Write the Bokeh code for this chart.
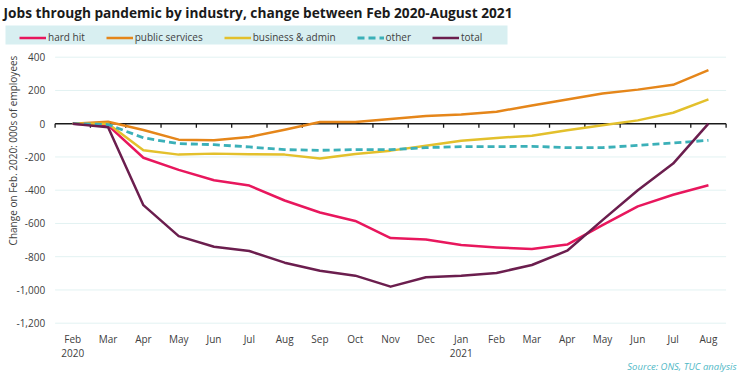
import math
from bokeh.plotting import figure
from bokeh.models import Range1d, Legend, LegendItem, Label, BoxAnnotation
from bokeh.core.properties import value
from bokeh.embed import file_html
from bokeh.resources import INLINE

# ---- data (000s of employees, change on Feb 2020) ----
months = ["Feb\n2020", "Mar", "Apr", "May", "Jun", "Jul", "Aug", "Sep", "Oct", "Nov",
          "Dec", "Jan\n2021", "Feb", "Mar", "Apr", "May", "Jun", "Jul", "Aug"]
hard_hit = [0, -10, -205, -278, -340, -372, -462, -534, -585, -688, -697, -730, -744,
            -754, -727, -610, -497, -427, -370]
public_services = [0, 12, -38, -96, -100, -80, -36, 10, 10, 28, 46, 56, 72, 110, 145,
                   182, 205, 234, 322]
business_admin = [0, 0, -160, -186, -180, -184, -186, -210, -182, -162, -132, -102, -86,
                  -72, -40, -10, 20, 66, 146]
other = [0, -5, -85, -120, -126, -140, -156, -160, -156, -156, -144, -138, -138, -136,
         -144, -144, -130, -116, -100]
total = [0, -22, -490, -676, -740, -766, -836, -884, -914, -980, -924, -914, -898, -850,
         -764, -580, -400, -240, 0]
y_ticks = [-1200, -1000, -800, -600, -400, -200, 0, 200, 400]

series = [
    ("hard hit", hard_hit, "#e8175d", "solid"),
    ("public services", public_services, "#e5861a", "solid"),
    ("business & admin", business_admin, "#e3c02c", "solid"),
    ("other", other, "#3bb0b8", "7 4"),
    ("total", total, "#6b1e4e", "solid"),
]

FONT = "Open Sans"
TXT = "#404040"

# ---- layout (pixels on the canvas) ----
W, H = 750, 376
PX_L, PX_R, PX_T, PX_B = 54.6, 725.6, 56.7, 322.7

n = len(months)
xs = list(range(n))
ymin, ymax = min(y_ticks), max(y_ticks)
ux = (PX_R - PX_L) / n                 # px per category
uy = (PX_B - PX_T) / (ymax - ymin)     # px per unit
x_start = -0.5 - PX_L / ux
x_end = n - 0.5 + (W - PX_R) / ux
y_end = ymax + PX_T / uy
y_start = ymin - (H - PX_B) / uy

p = figure(width=W, height=H, output_backend="svg", toolbar_location=None, title=None,
           x_range=Range1d(x_start, x_end), y_range=Range1d(y_start, y_end),
           min_border=0, x_axis_type=None, y_axis_type=None)
p.outline_line_color = None
p.background_fill_color = "white"
p.border_fill_color = "white"

# gridlines
grid_vals = [t for t in y_ticks if t != 0]
p.segment(x0=[-0.5] * len(grid_vals), x1=[n - 0.5] * len(grid_vals),
          y0=grid_vals, y1=grid_vals, line_color="#e2f2f2", line_width=1)

# zero line with ticks at category boundaries
p.segment(x0=[-0.5], x1=[n - 0.5], y0=[0], y1=[0], line_color="#1a1a1a", line_width=1.5)
bounds = [i - 0.5 for i in range(n + 1)]
tick_len = 4 / uy
p.segment(x0=bounds, x1=bounds, y0=[0] * len(bounds), y1=[-tick_len] * len(bounds),
          line_color="#1a1a1a", line_width=1.3)

# series
renderers = []
for name, vals, col, dash in series:
    r = p.line(xs, vals, line_color=col, line_width=2.5 if dash == "solid" else 2.8,
               line_dash=dash, line_join="round")
    renderers.append((name, r))

# y tick labels
p.text(x=[-0.5] * len(y_ticks), y=y_ticks, text=[f"{t:,}" for t in y_ticks],
       x_offset=-10, text_align="right", text_baseline="middle",
       text_font=value(FONT), text_font_size=value("10px"), text_color=TXT)

# x tick labels
p.text(x=xs, y=[ymin] * n, text=months, y_offset=9, text_align="center",
       text_baseline="top", text_line_height=0.96,
       text_font=value(FONT), text_font_size=value("10px"), text_color=TXT)

# legend background + legend
p.add_layout(BoxAnnotation(left=5, right=507, top=H - 25, bottom=H - 44,
                           left_units="screen", right_units="screen",
                           top_units="screen", bottom_units="screen",
                           fill_color="#d8eff1", fill_alpha=1, line_color=None,
                           level="underlay"))
legend = Legend(items=[LegendItem(label=nm, renderers=[r]) for nm, r in renderers],
                orientation="horizontal", location=(19, H - 44))
legend.background_fill_alpha = 0
legend.border_line_color = None
legend.label_text_font = FONT
legend.label_text_font_size = "10px"
legend.label_text_color = TXT
legend.glyph_width = 27
legend.glyph_height = 13
legend.label_height = 13
legend.label_standoff = 2
legend.spacing = 21
legend.padding = 3
legend.margin = 0
p.add_layout(legend)

# title
p.add_layout(Label(x=3, y=H - 12, x_units="screen", y_units="screen",
                   text="Jobs through pandemic by industry, change between Feb 2020-August 2021",
                   text_font=FONT, text_font_size="13.7px", text_font_style="bold",
                   text_color="#1a1a1a", text_baseline="middle", text_align="left"))

# y axis title
p.add_layout(Label(x=12, y=H - 150, x_units="screen", y_units="screen",
                   text="Change on Feb. 2020: 000s of employees", angle=math.pi / 2,
                   text_font=FONT, text_font_size="10px", text_color=TXT,
                   text_baseline="middle", text_align="center"))

# source
p.add_layout(Label(x=736, y=H - 366, x_units="screen", y_units="screen",
                   text="Source: ONS, TUC analysis", text_font=FONT,
                   text_font_size="9.5px", text_font_style="italic", text_color="#4fb8c6",
                   text_baseline="middle", text_align="right"))

open("out.html", "w").write(file_html(p, INLINE))
